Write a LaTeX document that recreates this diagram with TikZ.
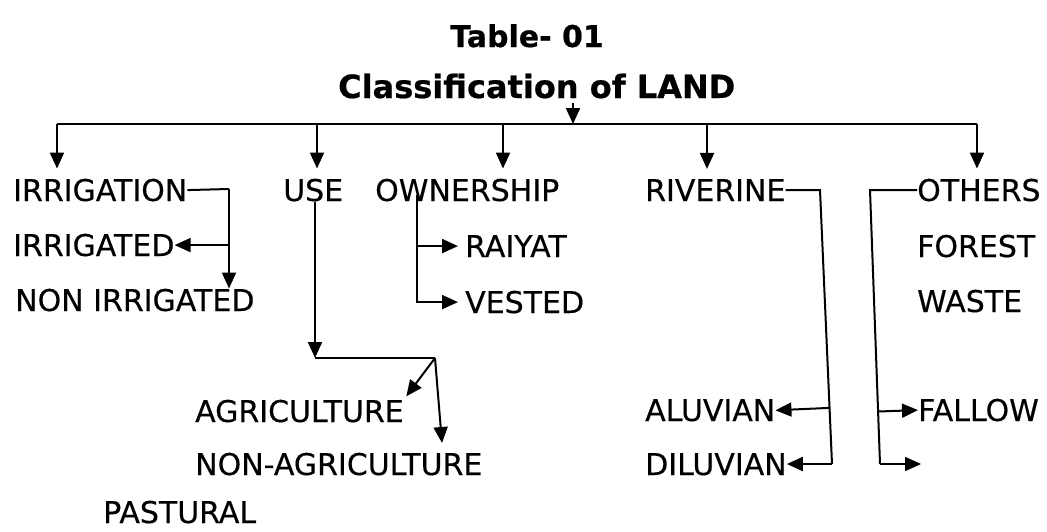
\documentclass[tikz,border=0pt]{standalone}
\usepackage{fontspec}
\setmainfont{DejaVu Sans}
\newfontfamily\lblfont{DejaVu Sans}[FakeBold=0.4]
\newfontfamily\ttlfont{DejaVu Sans}[FakeBold=0.6]
\usepackage{tikz}
\usetikzlibrary{arrows.meta, calc}

\begin{document}
\begin{tikzpicture}[x=1pt, y=-1pt,
  lbl/.style={font=\lblfont\fontsize{30}{36}\selectfont, anchor=base west, inner sep=0pt},
  ttl/.style={font=\ttlfont\fontsize{30}{36}\selectfont\bfseries, anchor=base west, inner sep=0pt},
  link/.style={line width=2pt},
  arr/.style={line width=2pt, -{Triangle[length=16pt, width=14pt]}}]

  \useasboundingbox (0,0) rectangle (1047,531);

  %% Title
  \node[ttl] (tbl) at (450,47) {Table- 01};
  \node[ttl, font=\ttlfont\fontsize{32}{38}\selectfont\bfseries] (cls) at (338,98) {Classification of LAND};

  %% First level
  \node[lbl] (irr) at (13,201) {IRRIGATION};
  \node[lbl] (use) at (283,201) {USE};
  \node[lbl] (own) at (375,201) {OWNERSHIP};
  \node[lbl] (riv) at (645,201) {RIVERINE};
  \node[lbl] (oth) at (917,201) {OTHERS};

  %% Second level
  \node[lbl] (ird) at (13,256) {IRRIGATED};
  \node[lbl] (non) at (15,311) {NON IRRIGATED};
  \node[lbl] (rai) at (465,257) {RAIYAT};
  \node[lbl] (ves) at (465,313) {VESTED};
  \node[lbl] (for) at (917,257) {FOREST};
  \node[lbl] (was) at (917,312) {WASTE};
  \node[lbl] (agr) at (195,422) {AGRICULTURE};
  \node[lbl] (nag) at (195,475) {NON-AGRICULTURE};
  \node[lbl] (pas) at (103,523) {PASTURAL};
  \node[lbl] (alu) at (645,421) {ALUVIAN};
  \node[lbl] (dil) at (645,475) {DILUVIAN};
  \node[lbl] (fal) at (918,421) {FALLOW};

  %% Bus under the title
  \coordinate (top) at (573,103);
  \coordinate (busL) at (57,124);
  \coordinate (busR) at (977,124);
  \draw[link] (busL) -- (busR);
  \draw[arr] (top) -- (top |- busL);
  \foreach \n/\x in {irr/57, use/317, own/503, riv/707, oth/977}{
    \coordinate (b\n) at (\x,124);
    \draw[arr, shorten >=10pt] (b\n) -- (b\n |- \n.north);
  }

  %% Irrigation
  \coordinate (irrB) at (229,189);
  \draw[link] (irr.east) -- (irrB);
  \draw[arr] (irrB) -- (irrB |- non.north);
  \draw[arr] (irrB |- ird.east) -- (ird.east);

  %% Use
  \coordinate (useA) at (315,358);
  \coordinate (useC) at (435,358);
  \coordinate (nagT) at (442,443);
  \draw[arr] (use.south -| useA) -- (useA);
  \draw[link] (useA) -- (useC);
  \draw[arr, shorten >=4pt] (useC) -- (agr.north east);
  \draw[arr] (useC) -- (nagT);

  %% Ownership
  \coordinate (ownB) at (417,195);
  \draw[arr, shorten >=7pt] (ownB) |- (ves.west);
  \draw[arr, shorten >=7pt] (ownB |- rai.west) -- (rai.west);

  %% Riverine
  \coordinate (rivB) at (820,190);
  \coordinate (rivD) at (832,464);
  \draw[link] (riv.east) -- (rivB) -- (rivD);
  \draw[arr] ($(rivB)!(alu.east)!(rivD)$) -- (alu.east);
  \draw[arr] (rivD) -- (rivD -| dil.east);

  %% Others
  \coordinate (othB) at (870,190);
  \coordinate (othD) at (880,464);
  \coordinate (othE) at (921,464);
  \draw[link] (oth.west) -- (othB) -- (othD);
  \draw[arr] ($(othB)!(fal.west)!(othD)$) -- (fal.west);
  \draw[arr] (othD) -- (othE);

\end{tikzpicture}
\end{document}
